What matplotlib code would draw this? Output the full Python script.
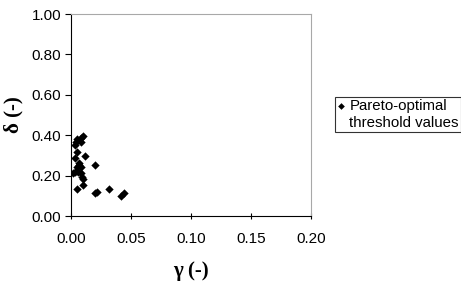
import matplotlib
matplotlib.use("Agg")
import matplotlib.pyplot as plt

# Pareto-optimal threshold values
gamma = [0.0098, 0.0081, 0.0048, 0.0042, 0.0086, 0.0036, 0.0048, 0.0119, 0.0036,
         0.0064, 0.0069, 0.0086, 0.0053, 0.0200, 0.0036, 0.0019, 0.0058, 0.0086,
         0.0092, 0.0098, 0.0103, 0.0053, 0.0198, 0.0214, 0.0320, 0.0420, 0.0442]
delta = [0.396, 0.385, 0.380, 0.366, 0.366, 0.350, 0.318, 0.297, 0.287,
         0.264, 0.252, 0.244, 0.244, 0.252, 0.219, 0.211, 0.219, 0.211,
         0.194, 0.181, 0.153, 0.132, 0.112, 0.120, 0.132, 0.100, 0.112]

x_ticks = [0.00, 0.05, 0.10, 0.15, 0.20]
y_ticks = [0.00, 0.20, 0.40, 0.60, 0.80, 1.00]

fig = plt.figure(figsize=(4.61, 2.88), dpi=100)
ax = fig.add_axes([0.154, 0.25, 0.521, 0.701])

ax.scatter(gamma, delta, marker="D", s=18, color="black", linewidths=0,
           label="Pareto-optimal\nthreshold values", zorder=3)

ax.set_xlim(0, 0.2)
ax.set_ylim(0, 1.0)
ax.set_xticks(x_ticks)
ax.set_yticks(y_ticks)
ax.set_xticklabels([f"{v:.2f}" for v in x_ticks], family="Liberation Sans", fontsize=11)
ax.set_yticklabels([f"{v:.2f}" for v in y_ticks], family="Liberation Sans", fontsize=11)
ax.tick_params(axis="x", direction="inout", length=5, width=0.8, pad=9)
ax.tick_params(axis="y", direction="out", length=4, width=0.8, pad=3)

ax.spines["left"].set_color("black")
ax.spines["bottom"].set_color("black")
ax.spines["top"].set_color("#a8a8a8")
ax.spines["right"].set_color("#a8a8a8")
for s in ax.spines.values():
    s.set_linewidth(0.8)

ax.set_xlabel("γ (-)", family="Liberation Serif", fontweight="bold", fontsize=15, labelpad=11)
ax.set_ylabel("δ (-)", family="Liberation Serif", fontweight="bold", fontsize=15, labelpad=6)

leg = fig.legend(loc="upper left", bbox_to_anchor=(0.727, 0.663), frameon=True,
                 fancybox=False, edgecolor="black", handlelength=0.5, handletextpad=0.3,
                 borderpad=0.15, borderaxespad=0, markerscale=0.8,
                 prop={"family": "Liberation Sans", "size": 10.8})
leg.get_frame().set_linewidth(0.8)
for t in leg.get_texts():
    t.set_multialignment("left")
# put the marker beside the first line, as in the original
h = leg.legend_handles[0]
offs = h.get_offsets()
offs[:, 1] += 7
h.set_offsets(offs)

fig.savefig("out.png", dpi=100)
